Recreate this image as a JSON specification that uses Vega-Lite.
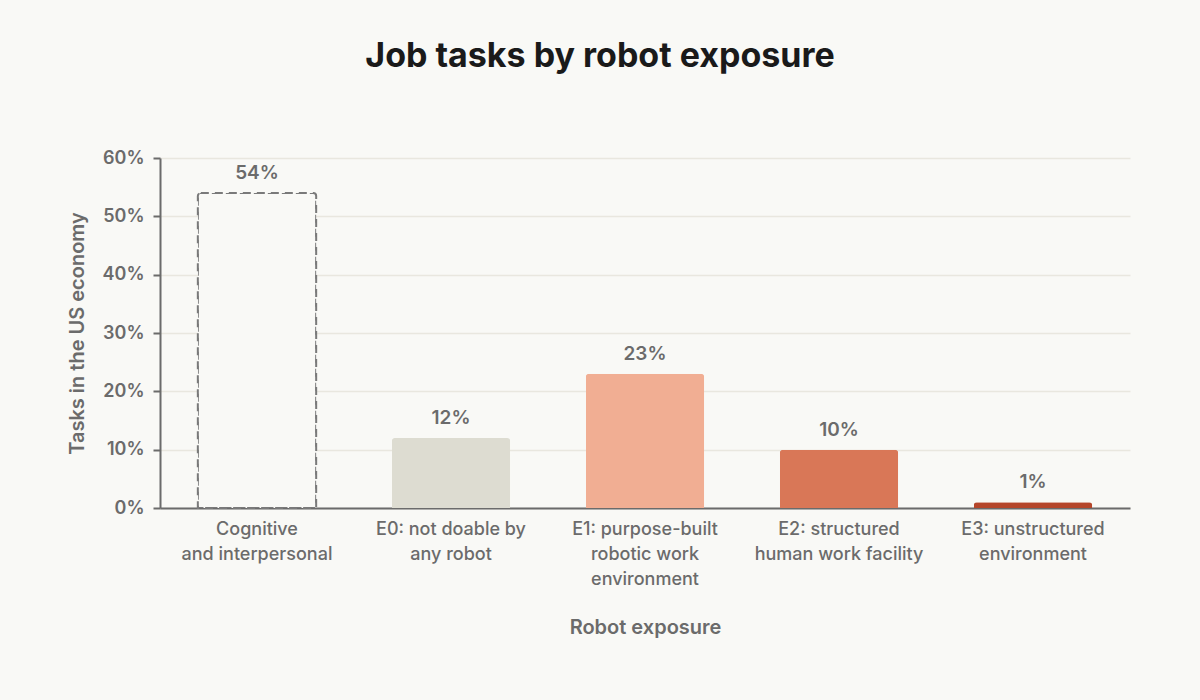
{
  "$schema": "https://vega.github.io/schema/vega-lite/v6.json",
  "autosize": {"type": "none"},
  "width": 970,
  "height": 350,
  "padding": {"left": 160, "top": 158, "right": 70, "bottom": 192},
  "background": "#f9f9f6",
  "title": {
    "text": "Job tasks by robot exposure",
    "anchor": "middle",
    "frame": "group",
    "dx": -45,
    "offset": 75,
    "fontSize": 34,
    "fontWeight": 700,
    "font": "Inter",
    "color": "#1a1a1a"
  },
  "data": {
    "values": [
      {"exposure": "Cognitive|and interpersonal", "share": 0.54},
      {"exposure": "E0: not doable by|any robot", "share": 0.12},
      {"exposure": "E1: purpose-built|robotic work|environment", "share": 0.23},
      {"exposure": "E2: structured|human work facility", "share": 0.10},
      {"exposure": "E3: unstructured|environment", "share": 0.01}
    ]
  },
  "encoding": {
    "x": {
      "field": "exposure",
      "type": "nominal",
      "sort": null,
      "scale": {"paddingInner": 0.39, "paddingOuter": 0.195},
      "axis": {
        "title": "Robot exposure",
        "labelAngle": 0,
        "labelExpr": "split(datum.label, '|')",
        "labelLineHeight": 25,
        "labelPadding": 12,
        "ticks": false,
        "titlePadding": 29
      }
    },
    "y": {
      "field": "share",
      "type": "quantitative",
      "scale": {"domain": [0, 0.6]},
      "axis": {
        "title": "Tasks in the US economy",
        "format": ".0%",
        "values": [0, 0.1, 0.2, 0.3, 0.4, 0.5, 0.6],
        "grid": true,
        "tickSize": 7,
        "labelPadding": 9,
        "labelFontWeight": 600,
        "titlePadding": 15
      }
    }
  },
  "layer": [
    {
      "mark": {
        "type": "bar",
        "cornerRadiusTopLeft": 3,
        "cornerRadiusTopRight": 3,
        "strokeDash": [8, 6],
        "strokeWidth": 2
      },
      "encoding": {
        "fill": {
          "field": "exposure",
          "type": "nominal",
          "sort": null,
          "legend": null,
          "scale": {"range": ["#f9f9f6", "#dddcd1", "#f1ae93", "#d97757", "#b5462a"]}
        },
        "stroke": {
          "condition": {"test": "indexof(datum.exposure, 'Cognitive') == 0", "value": "#7a7a7a"},
          "value": null
        }
      }
    },
    {
      "mark": {
        "type": "text",
        "dy": -20,
        "fontSize": 19,
        "fontWeight": 600,
        "font": "Inter",
        "color": "#6b6b6b"
      },
      "encoding": {
        "text": {"field": "share", "type": "quantitative", "format": ".0%"}
      }
    }
  ],
  "config": {
    "view": {"stroke": null},
    "axis": {
      "labelFont": "Inter",
      "labelFontSize": 18,
      "labelFontWeight": 500,
      "labelColor": "#6b6b6b",
      "titleFont": "Inter",
      "titleFontSize": 20,
      "titleFontWeight": 600,
      "titleColor": "#6b6b6b",
      "domainColor": "#6b6b6b",
      "domainWidth": 2,
      "tickColor": "#6b6b6b",
      "tickWidth": 2,
      "gridColor": "#e9e7df",
      "gridWidth": 1.5
    },
    "axisX": {"grid": false}
  }
}
